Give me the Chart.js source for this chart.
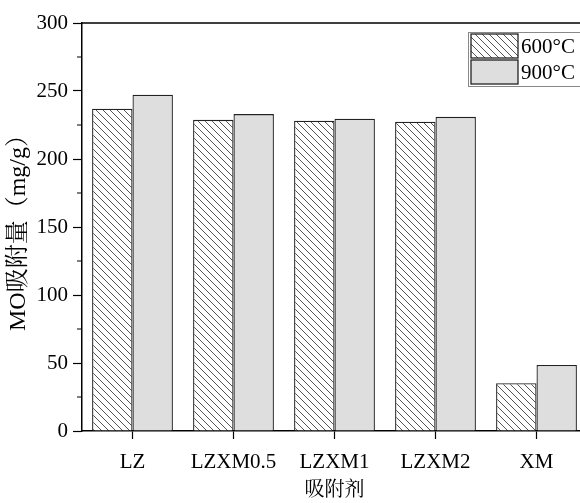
<!DOCTYPE html>
<html lang="zh">
<head>
<meta charset="UTF-8">
<title>MO吸附量</title>
<script src="https://cdn.jsdelivr.net/npm/chart.js"></script>
<style>
  html, body { margin: 0; padding: 0; background: #fff; overflow: hidden; }
  #wrap { width: 590px; height: 503px; }
</style>
</head>
<body>
<div id="wrap"><canvas id="adsChart"></canvas></div>
<script>
// data
const categories = ['LZ', 'LZXM0.5', 'LZXM1', 'LZXM2', 'XM'];
const seriesNames = ['600°C', '900°C'];
const values600 = [237.0, 228.8, 228.1, 227.4, 35.1];
const values900 = [247.3, 233.0, 229.6, 231.0, 48.6];
const yMin = 0, yMax = 300, yMajor = 50, yMinor = 25;

const FONT = "'Liberation Serif', 'Times New Roman', 'Noto Serif CJK SC', 'Noto Sans CJK SC', serif";
const GRAY = '#dedede';
const EDGE = '#222';

// hatch "\\\\" pattern for the 600 series
function hatch() {
  const s = 7;
  const c = document.createElement('canvas');
  c.width = s; c.height = s;
  const g = c.getContext('2d');
  g.fillStyle = '#fff';
  g.fillRect(0, 0, s, s);
  g.strokeStyle = '#555';
  g.lineWidth = 1;
  g.beginPath();
  for (let k = -1; k <= 1; k++) {
    g.moveTo(0, k * s);
    g.lineTo(s, s + k * s);
  }
  g.stroke();
  return g.createPattern(c, 'repeat');
}
const hatchFill = hatch();

// frame, minor ticks and boxed legend
const extras = {
  id: 'extras',
  afterDraw(chart) {
    const ctx = chart.ctx;
    const a = chart.chartArea;
    const y = chart.scales.y;
    ctx.save();
    ctx.strokeStyle = '#000';
    ctx.lineWidth = 1.5;
    ctx.beginPath();
    ctx.moveTo(a.left, a.top);
    ctx.lineTo(a.right, a.top);
    ctx.lineTo(a.right, a.bottom);
    ctx.stroke();

    ctx.lineWidth = 1.2;
    ctx.beginPath();
    y.ticks.forEach(t => {
      if (t.value % yMajor !== 0) {
        const py = y.getPixelForValue(t.value);
        ctx.moveTo(a.left - 5, py);
        ctx.lineTo(a.left, py);
      }
    });
    ctx.stroke();

    // legend
    const lx = a.right - 119, ly = a.top + 9;
    ctx.strokeStyle = '#888';
    ctx.lineWidth = 1;
    ctx.strokeRect(lx + 0.5, ly + 0.5, 130, 54);
    const fills = [hatchFill, GRAY];
    ctx.font = '21px ' + FONT;
    ctx.textBaseline = 'middle';
    ctx.textAlign = 'left';
    seriesNames.forEach((name, i) => {
      const sy = ly + 2 + i * 26;
      ctx.fillStyle = fills[i];
      ctx.fillRect(lx + 3, sy, 47, 24);
      ctx.strokeStyle = EDGE;
      ctx.lineWidth = 1.3;
      ctx.strokeRect(lx + 3, sy, 47, 24);
      ctx.fillStyle = '#000';
      ctx.fillText(name, lx + 53, sy + 13);
    });
    ctx.restore();
  }
};

new Chart(document.getElementById('adsChart'), {
  type: 'bar',
  data: {
    labels: categories,
    datasets: [
      { label: seriesNames[0], data: values600, backgroundColor: hatchFill,
        borderColor: EDGE, borderWidth: 1.3 },
      { label: seriesNames[1], data: values900, backgroundColor: GRAY,
        borderColor: EDGE, borderWidth: 1.3 }
    ]
  },
  options: {
    responsive: true,
    maintainAspectRatio: false,
    animation: false,
    barPercentage: 1,
    categoryPercentage: 0.8,
    layout: { padding: { top: 23, right: 3, bottom: 0, left: 0 } },
    plugins: { legend: { display: false }, tooltip: { enabled: false } },
    scales: {
      x: {
        afterFit(s) { s.height = 72; },
        grid: { offset: false, drawOnChartArea: false, tickLength: 8, tickColor: '#000', tickWidth: 1.2 },
        border: { color: '#000', width: 1.5 },
        ticks: { color: '#000', padding: 11, font: { family: FONT, size: 21 } },
        title: { display: true, text: '吸附剂', color: '#000', padding: { top: 0, bottom: 0 },
                 font: { family: FONT, size: 20 } }
      },
      y: {
        min: yMin, max: yMax,
        afterFit(s) { s.width = 82; },
        grid: { drawOnChartArea: false, tickLength: 9, tickWidth: 1.2,
                tickColor: c => (c.tick && c.tick.value % yMajor === 0) ? '#000' : 'rgba(0,0,0,0)' },
        border: { color: '#000', width: 1.5 },
        ticks: { stepSize: yMinor, color: '#000', padding: 5, font: { family: FONT, size: 21 },
                 callback: v => (v % yMajor === 0 ? v : '') },
        title: { display: true, text: 'MO吸附量（mg/g）', color: '#000', padding: { top: 4, bottom: 0 },
                 font: { family: FONT, size: 24 } }
      }
    }
  },
  plugins: [extras]
});
</script>
</body>
</html>
